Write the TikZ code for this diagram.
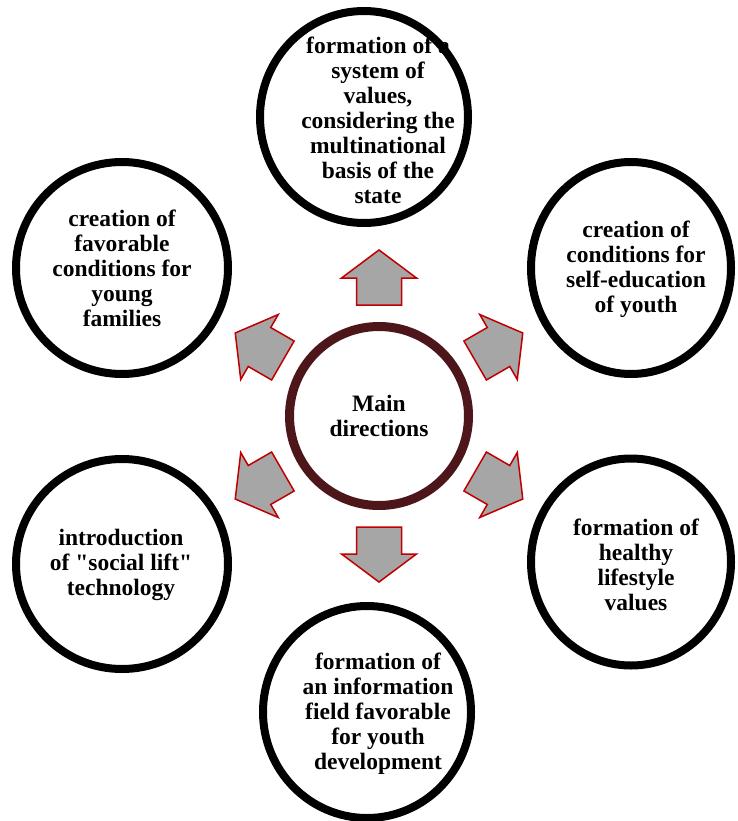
\documentclass[tikz,border=0pt]{standalone}
\usepackage{fontspec}
\setmainfont{Liberation Serif}[Ligatures=TeXOff]
\usetikzlibrary{shapes.geometric}
\definecolor{ringred}{HTML}{4C161B}
\definecolor{arrfill}{HTML}{A6A6A6}
\definecolor{arrline}{HTML}{C00000}
\begin{document}
\begin{tikzpicture}[x=1pt,y=-1pt,
  outer/.style={ellipse, draw=black, line width=8pt, fill=white, inner sep=0pt},
  hub/.style={circle, draw=ringred, line width=9pt, fill=white, inner sep=0pt, minimum size=179pt},
  txt/.style={align=center, inner sep=0pt, font=\bfseries\fontsize{23.5}{25}\selectfont},
  arrowshape/.style={fill=arrfill, draw=arrline, line width=1.5pt, line join=miter}]
\useasboundingbox (0,0) rectangle (737,821);
% outer circles
\node[outer, minimum width=208pt, minimum height=212pt] (top) at (364,117) {};
\node[outer, minimum width=200pt, minimum height=212pt] (rtop) at (631,268) {};
\node[outer, minimum width=200pt, minimum height=207pt] (rbot) at (631,562) {};
\node[outer, minimum width=212pt, minimum height=212pt] (ltop) at (122,268) {};
\node[outer, minimum width=212pt, minimum height=210pt] (lbot) at (122,564) {};
\node[outer, minimum width=208pt, minimum height=212pt] (bot) at (367,712) {};
% hub
\node[hub] (hubc) at (379,416) {};
% arrows
\foreach \a in {90,30,-30,-90,-150,150}{
  \draw[arrowshape, shift={(hubc.center)}, rotate=\a]
    (111,-22.5) -- (138,-22.5) -- (138,-37.5) -- (166,0) -- (138,37.5) -- (138,22.5) -- (111,22.5) -- cycle;
}
% texts
\node[txt] (ttop) at (378,120) {formation of a\\system of\\values,\\considering the\\multinational\\basis of the\\state};
\node[txt] (tltop) at (122,268) {creation of\\favorable\\conditions for\\young\\families};
\node[txt] (trtop) at (636,269) {creation of\\conditions for\\self-education\\of youth};
\node[txt] (trbot) at (636,565) {formation of\\healthy\\lifestyle\\values};
\node[txt] (tlbot) at (121,565) {introduction\\of "social lift"\\technology};
\node[txt] (tbot) at (378,714) {formation of\\an information\\field favorable\\for youth\\development};
\node[txt] (thub) at (379,416) {Main\\directions};
\end{tikzpicture}
\end{document}
